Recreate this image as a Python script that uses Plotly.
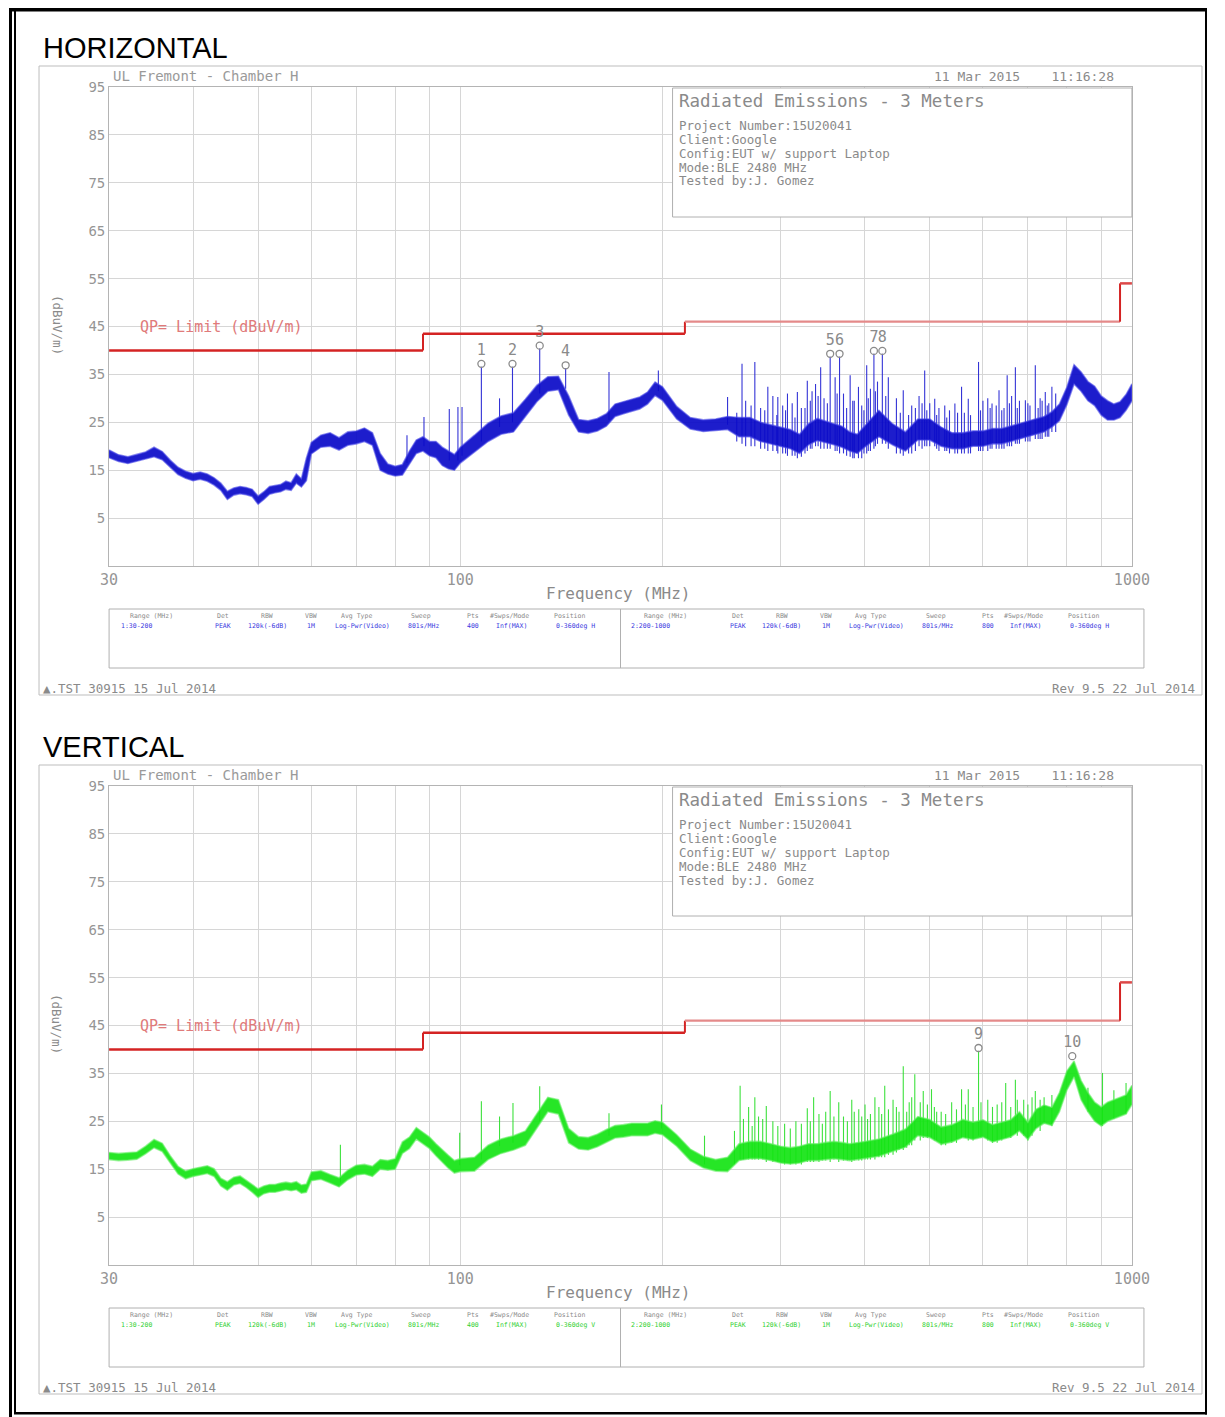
import plotly.graph_objects as go

W, H = 1225, 1417

# ---------------- sweep data (MHz / dBuV/m) ----------------
FREQ = [30, 31, 32, 33, 34, 35, 36, 37, 38, 39, 40, 41, 42, 43, 44, 45, 46, 47, 48, 49,
        50, 51, 52, 53, 54, 55, 56, 57, 58, 59, 60,
        62, 64, 66, 68, 70, 72, 74, 76, 78, 80, 82, 84, 86, 88, 90, 92, 94, 96, 98, 100,
        105, 110, 115, 120, 125, 130, 135, 140, 145, 150, 155, 160, 165, 170, 175, 180,
        185, 190, 195, 200,
        210, 220, 230, 240, 250, 260, 270, 280, 290, 300, 310, 320, 330, 340, 350, 360,
        370, 380, 390, 400,
        420, 440, 460, 480, 500, 520, 540, 560, 580, 600, 620, 640, 660, 680, 700, 720,
        740, 760, 780, 800, 820, 840, 860, 880, 900, 920, 940, 960, 980, 1000]

# Horizontal polarisation: lower / upper edge of the trace band
H_LO = [17.6, 16.8, 16.4, 16.9, 17.3, 17.8, 17.2, 15.6, 14.1, 13.3, 12.8, 13.1, 12.7, 11.9, 10.8, 8.9,
        9.8, 10.1, 9.9, 9.5, 7.9, 8.9, 10.0, 10.3, 10.5, 11.0, 10.8, 12.3, 11.5, 12.8, 18.4,
        19.8, 20.0, 19.2, 20.2, 20.5, 21.0, 20.2, 15.0, 14.2, 13.8, 14.0, 16.2, 18.5, 19.0, 18.0,
        17.6, 16.0, 15.3, 15.0, 16.5,
        18.8, 21.0, 22.5, 23.0, 26.2, 29.3, 31.5, 31.8, 26.5, 23.0, 22.7, 23.2, 24.2, 26.2, 26.8,
        27.3, 27.8, 28.8, 30.6, 29.6,
        25.7, 23.6, 23.1, 23.3, 23.5, 22.0, 22.0, 21.0, 20.5, 20.0, 19.5, 18.5, 20.3, 21.2, 20.8,
        20.3, 19.8, 19.0, 18.5, 19.8,
        22.0, 20.3, 19.0, 21.3, 21.3, 20.0, 19.5, 19.5, 20.0, 20.0, 20.5, 20.5, 21.0, 21.5, 22.0,
        22.5, 23.0, 24.0, 25.3, 28.7, 33.0, 31.5, 29.5, 28.5, 26.5, 25.5, 25.5, 26.0, 27.5, 29.5]
H_HI = [19.2, 18.2, 17.8, 18.3, 18.8, 19.8, 18.9, 17.1, 15.6, 14.8, 14.3, 14.6, 14.2, 13.4, 12.3, 10.6,
        11.3, 11.6, 11.4, 11.0, 9.6, 10.5, 11.6, 11.8, 12.0, 12.7, 12.4, 14.2, 13.2, 17.5, 20.8,
        22.3, 22.8, 21.8, 23.0, 23.2, 23.8, 22.8, 18.5, 16.3, 15.8, 16.2, 19.0, 21.3, 22.0, 21.0,
        21.0, 19.8, 19.0, 18.3, 19.8,
        22.3, 24.8, 26.3, 27.0, 29.8, 32.7, 34.5, 34.6, 30.5, 25.6, 25.3, 25.8, 26.8, 28.8, 29.3,
        29.8, 30.3, 31.3, 33.4, 32.4,
        28.3, 26.0, 25.5, 25.7, 26.2, 26.0, 26.0, 25.0, 24.5, 24.0, 23.5, 22.5, 24.7, 25.8, 25.2,
        24.7, 24.2, 23.0, 22.5, 24.2,
        27.5, 24.7, 23.0, 25.7, 25.7, 24.0, 22.8, 22.8, 23.2, 23.2, 23.7, 23.7, 24.2, 24.7, 25.2,
        25.7, 26.2, 27.2, 28.8, 32.3, 37.0, 35.5, 33.5, 32.5, 30.5, 29.5, 28.8, 29.3, 30.8, 33.0]

# Vertical polarisation: lower / upper edge of the trace band
V_LO = [17.0, 16.8, 16.9, 17.1, 18.2, 19.5, 18.7, 16.2, 14.0, 13.0, 13.5, 13.8, 14.1, 13.5, 11.5, 10.6,
        11.7, 12.0, 11.2, 10.2, 9.1, 9.9, 10.2, 10.2, 10.5, 10.7, 10.5, 10.7, 10.0, 10.2, 12.6,
        12.9, 12.1, 11.3, 12.8, 13.8, 14.0, 13.5, 15.0, 14.8, 15.0, 18.3, 19.3, 21.3, 20.3, 19.3,
        17.8, 16.4, 15.2, 14.2, 14.5,
        14.6, 17.0, 18.3, 19.0, 20.0, 23.5, 27.0, 26.5, 20.5, 19.2, 19.0, 19.7, 20.7, 21.5, 21.7,
        22.0, 22.0, 22.0, 22.5, 22.2,
        19.8, 16.8, 15.3, 14.6, 14.5, 16.8, 17.2, 17.2, 16.8, 16.3, 16.1, 16.3, 16.8, 16.8, 17.0,
        17.2, 17.0, 16.8, 17.0, 17.2,
        17.7, 18.7, 19.6, 22.0, 21.6, 20.2, 20.7, 21.6, 21.2, 21.7, 20.7, 21.2, 21.7, 23.0, 21.2,
        23.5, 24.6, 24.1, 27.0, 31.5, 34.3, 29.5, 27.0, 25.0, 24.0, 25.0, 25.5, 26.0, 26.5, 28.5]
V_HI = [18.5, 18.3, 18.4, 18.6, 19.8, 21.2, 20.4, 17.8, 15.6, 14.6, 15.1, 15.4, 15.7, 15.1, 13.1, 12.4,
        13.3, 13.6, 12.8, 11.8, 10.9, 11.5, 11.8, 11.8, 12.1, 12.3, 12.1, 12.4, 11.7, 11.9, 14.4,
        14.7, 13.9, 13.2, 14.8, 15.8, 16.0, 15.6, 17.0, 16.8, 17.2, 20.7, 21.7, 23.7, 22.7, 21.7,
        20.3, 19.0, 17.9, 16.8, 17.2,
        17.5, 20.0, 21.3, 22.0, 23.0, 26.5, 30.0, 29.5, 23.5, 21.8, 21.6, 22.3, 23.3, 24.1, 24.3,
        24.6, 24.6, 24.6, 25.1, 24.8,
        22.2, 19.2, 17.7, 17.0, 17.5, 20.3, 20.8, 20.8, 20.3, 19.8, 19.5, 19.8, 20.3, 20.3, 20.6,
        20.8, 20.6, 20.3, 20.6, 20.8,
        21.3, 22.3, 23.4, 26.0, 25.4, 23.8, 24.3, 25.4, 24.8, 25.3, 24.3, 24.8, 25.3, 27.0, 24.8,
        27.5, 28.4, 27.9, 31.0, 35.5, 37.6, 33.5, 31.0, 29.0, 28.0, 29.0, 29.5, 30.0, 30.5, 32.5]

# Narrow-band emissions: frequency, peak level and the dip level of each column
H_SPK_F = [83.3, 88.3, 96.3, 99.2, 100.6, 107.5, 114.4, 119.6, 131.3, 143.5, 166.5, 197.2, 250, 262.7,
           274.5, 287, 297, 307, 317.6, 328.6, 338, 344, 355.4, 361.5, 367, 380.6, 391.6, 402.8,
           412.9, 425, 433.8, 456.6, 491.4, 508.6, 526.4, 545, 557.6, 570.6, 591, 619, 634, 652,
           670.6, 694, 718, 743, 760,
           266, 280, 292, 302, 312, 322, 334, 348, 372, 386, 396, 408, 418, 446, 470, 482, 500,
           516, 535, 563, 600, 610, 628, 645, 662, 680, 705, 730, 752,
           258, 271, 284, 296, 305, 315, 326, 332, 341, 352, 364, 376, 384, 399, 405, 415, 430,
           452, 465, 476, 487, 495, 512, 530, 550, 575, 595, 615, 640, 657, 675, 700, 725, 735,
           748, 770]
H_SPK_TOP = [22.3, 26.1, 27.8, 28.2, 28.2, 36.6, 30.0, 36.6, 40.4, 36.3, 35.5, 35.8, 30.3, 37.2,
             37.6, 32.4, 30.3, 31.0, 31.3, 33.7, 33.0, 36.5, 38.7, 34.4, 38.7, 34.8, 32.4, 36.9,
             39.3, 39.3, 34.4, 31.7, 35.8, 29.9, 28.5, 28.9, 32.4, 29.9, 37.6, 28.9, 31.7, 34.8,
             36.5, 29.6, 36.9, 31.3, 32.4,
             29.5, 28.0, 30.5, 28.5, 29.0, 28.0, 31.5, 30.0, 31.0, 29.5, 28.5, 32.0, 33.5, 30.0,
             28.5, 30.5, 29.0, 28.0, 27.5, 27.0, 29.5, 30.0, 28.5, 28.0, 30.5, 29.5, 28.5, 30.0, 29.0,
             27.0, 28.5, 27.5, 26.5, 27.5, 26.0, 28.0, 29.5, 30.5, 29.0, 31.0, 28.0, 29.5, 27.5,
             30.0, 31.5, 30.5, 27.0, 26.5, 28.0, 29.0, 27.5, 26.5, 26.0, 27.0, 26.5, 27.5, 28.0,
             27.5, 29.0, 28.0, 29.0, 28.0, 29.5, 28.5, 31.0]
H_SPK_LOW = [16.5, 20.0, 17.0, 17.0, 18.0, 21.0, 24.0, 25.0, 31.0, 32.0, 25.5, 31.5, 24.5, 20.5,
             20.0, 19.0, 18.5, 18.0, 17.5, 19.0, 20.0, 19.5, 19.5, 19.0, 18.5, 17.8, 17.5, 18.5,
             19.5, 20.5, 19.5, 18.0, 20.0, 20.0, 19.0, 18.5, 18.5, 18.5, 19.0, 19.5, 19.5, 20.0,
             20.5, 21.0, 21.5, 22.0, 23.0,
             20.0, 19.5, 19.0, 18.5, 18.0, 17.8, 19.5, 19.5, 18.5, 17.5, 17.5, 19.0, 20.5, 18.5,
             18.5, 20.0, 20.0, 19.0, 18.5, 18.5, 19.0, 19.0, 19.5, 19.5, 20.0, 20.5, 21.0, 21.5, 22.0,
             21.0, 20.0, 19.5, 19.0, 18.5, 18.0, 18.5, 19.5, 20.0, 19.5, 19.0, 18.0, 17.5, 18.5,
             19.0, 20.0, 20.5, 18.5, 18.5, 19.0, 19.5, 20.0, 19.5, 19.0, 18.5, 18.5, 19.0, 19.5,
             19.5, 20.0, 20.5, 21.0, 21.5, 21.5, 22.0, 23.0]

V_SPK_F = [66.3, 99.8, 107.5, 114.4, 119.8, 131.3, 166.5, 199.3, 231, 261, 268.7, 274.5, 285.5,
           328.6, 335.8, 355.4, 366, 382.7, 400.5, 414.3, 428.5, 440.9, 456.6, 475, 489, 503, 539,
           557.6, 570.6, 591, 648.7, 670.6, 718, 904,
           264, 278, 292, 304, 316, 342, 350, 372, 392, 408, 420, 450, 466, 496, 512, 528, 580,
           610, 630, 660, 690, 740, 760, 860, 940, 980,
           256, 272, 282, 297, 310, 322, 332, 346, 360, 377, 386, 396, 404, 424, 434, 446, 462,
           470, 484, 508, 520, 548, 565, 596, 620, 640, 675, 700, 710, 730]
V_SPK_TOP = [20.1, 22.6, 29.2, 26.0, 28.8, 32.3, 26.7, 28.5, 22.0, 32.4, 28.0, 30.0, 28.2, 27.7,
             30.0, 31.3, 29.0, 29.5, 28.5, 30.0, 32.4, 29.5, 36.5, 34.8, 31.3, 31.7, 29.0, 31.7,
             31.7, 39.7, 33.0, 33.7, 31.3, 35.1,
             25.5, 26.0, 25.0, 24.5, 25.0, 26.5, 27.0, 26.0, 27.5, 26.5, 28.0, 27.0, 29.0, 28.5,
             27.0, 26.5, 28.0, 29.5, 28.5, 28.0, 29.5, 30.0, 30.5, 32.0, 31.5, 33.0,
             23.0, 24.0, 25.5, 24.0, 23.5, 24.5, 25.0, 24.5, 26.0, 25.0, 27.0, 26.0, 25.5, 26.5,
             27.5, 28.0, 27.0, 30.0, 29.0, 28.0, 27.0, 27.5, 28.5, 29.0, 28.0, 29.0, 29.5, 28.5,
             30.0, 29.5]
V_SPK_LOW = [12.2, 15.8, 17.0, 19.8, 20.5, 25.0, 22.0, 23.5, 16.0, 17.0, 17.0, 17.0, 16.5, 16.5,
             16.5, 16.5, 16.5, 16.5, 17.0, 17.0, 17.5, 18.0, 19.0, 21.0, 21.5, 21.5, 20.5, 21.5,
             21.0, 22.0, 21.5, 22.5, 23.5, 24.0,
             17.0, 17.0, 16.5, 16.0, 16.0, 16.5, 16.8, 16.8, 16.8, 17.0, 17.5, 19.0, 20.0, 21.5,
             21.0, 20.0, 21.0, 21.0, 20.5, 21.5, 22.0, 24.5, 24.0, 27.0, 25.5, 26.5,
             16.0, 17.0, 17.0, 16.5, 16.0, 16.0, 16.5, 16.8, 17.0, 16.8, 16.8, 16.8, 17.0, 17.5,
             18.0, 18.5, 19.5, 20.0, 21.0, 21.0, 20.0, 20.5, 21.5, 21.5, 20.5, 21.0, 22.0, 21.0,
             22.0, 23.0]

# Marked peaks
H_MARK_F = [107.5, 119.6, 131.3, 143.5, 355.4, 367, 412.9, 425]
H_MARK_DB = [37.2, 37.2, 41.0, 36.9, 39.3, 39.3, 39.9, 39.9]
H_MARK_LBL = ["1", "2", "3", "4", "5", "6", "7", "8"]
V_MARK_F = [591, 815]
V_MARK_DB = [40.3, 38.6]
V_MARK_LBL = ["9", "10"]

# Quasi-peak limit (step edges in MHz, level in dBuV/m per step)
LIMIT_F = [30, 88, 216, 960, 1000]
LIMIT_DB = [40, 43.5, 46, 54]

X_TICKS = [30, 40, 50, 60, 70, 80, 90, 100, 200, 300, 400, 500, 600, 700, 800, 900, 1000]
X_TICK_TEXT = ["30", "", "", "", "", "", "", "100", "", "", "", "", "", "", "", "", "1000"]
Y_TICKS = [5, 15, 25, 35, 45, 55, 65, 75, 85, 95]

INFO_TITLE = "Radiated Emissions - 3 Meters"
INFO_LINES = ["Project Number:15U20041", "Client:Google", "Config:EUT w/ support Laptop",
              "Mode:BLE 2480 MHz", "Tested by:J. Gomez"]
TABLE_HEAD = ["Range (MHz)", "Det", "RBW", "VBW", "Avg Type", "Sweep", "Pts", "#Swps/Mode", "Position"]
TABLE_ROW1 = ["1:30-200", "PEAK", "120k(-6dB)", "1M", "Log-Pwr(Video)", "801s/MHz", "400", "Inf(MAX)", "0-360deg"]
TABLE_ROW2 = ["2:200-1000", "PEAK", "120k(-6dB)", "1M", "Log-Pwr(Video)", "801s/MHz", "800", "Inf(MAX)", "0-360deg"]

for a, b in [(H_LO, FREQ), (H_HI, FREQ), (V_LO, FREQ), (V_HI, FREQ), (H_SPK_TOP, H_SPK_F),
             (H_SPK_LOW, H_SPK_F), (V_SPK_TOP, V_SPK_F), (V_SPK_LOW, V_SPK_F)]:
    assert len(a) == len(b)

# ---------------- layout helpers ----------------
MONO = "DejaVu Sans Mono"
GREY = "#959595"

# The page keeps its default body margin and a scrollbar, so the figure box
# lands at (8, 8) with a size of 1197 x 1409 window pixels.  px/py turn window
# pixel positions into paper fractions of that box.
OX, OY, BW, BH = 8.0, 8.0, 1197.0, 1409.0


def px(x):
    return (x - OX) / BW


def py(y):
    return 1 - (y - OY) / BH


fig = go.Figure()
shapes = []
annotations = []


def text(x, y, s, size, color=GREY, xanchor="left", family=MONO, angle=0):
    annotations.append(dict(x=px(x), y=py(y), xref="paper", yref="paper", text=s, showarrow=False,
                            xanchor=xanchor, yanchor="middle", textangle=angle,
                            font=dict(family=family, size=size, color=color)))


def rect(x0, y0, x1, y1, color, width, fill=None, layer="below"):
    shapes.append(dict(type="rect", xref="paper", yref="paper", x0=px(x0), x1=px(x1),
                       y0=py(y0), y1=py(y1), line=dict(color=color, width=width),
                       fillcolor=fill if fill else "rgba(0,0,0,0)", layer=layer))


def block(x0, y0, x1, y1, color):
    shapes.append(dict(type="rect", xref="paper", yref="paper", x0=px(x0), x1=px(x1),
                       y0=py(y0), y1=py(y1), line=dict(width=0), fillcolor=color, layer="above"))


def vline(x, y0, y1, color, width):
    shapes.append(dict(type="line", xref="paper", yref="paper", x0=px(x), x1=px(x),
                       y0=py(y0), y1=py(y1), line=dict(color=color, width=width), layer="above"))


# page border: heavy rule on top and left, thin rule all round
block(OX, OY, OX + BW, 11.5, "black")
block(OX, OY, 11, OY + BH, "black")
block(13, 11, 15, 1414, "black")
block(13, 1412, 1205, 1414.5, "black")
block(1203, 11, 1205, 1414.5, "black")

PANELS = [
    dict(title="HORIZONTAL", dy=0, ax="", lo=H_LO, hi=H_HI, sf=H_SPK_F, st=H_SPK_TOP, sb=H_SPK_LOW,
         mf=H_MARK_F, md=H_MARK_DB, ml=H_MARK_LBL, pol="H",
         fill="rgba(10,10,200,0.92)", edge="rgba(70,70,230,0.6)", spike="rgba(30,30,210,0.9)",
         tcol="#3a3ae0"),
    dict(title="VERTICAL", dy=699, ax="2", lo=V_LO, hi=V_HI, sf=V_SPK_F, st=V_SPK_TOP, sb=V_SPK_LOW,
         mf=V_MARK_F, md=V_MARK_DB, ml=V_MARK_LBL, pol="V",
         fill="rgba(20,228,20,0.92)", edge="rgba(100,238,100,0.6)", spike="rgba(40,222,40,0.9)",
         tcol="#30d030"),
]

LIMIT_STYLE = [("#d42323", 2.5), ("#d42323", 2.5), ("#e48a8a", 2.2), ("#dc4848", 2.5)]

layout_axes = {}
for p in PANELS:
    dy = p["dy"]
    xa, ya = "x" + p["ax"], "y" + p["ax"]
    xkey = "xaxis" + p["ax"]
    ykey = "yaxis" + p["ax"]
    layout_axes[xkey] = dict(
        type="log", range=[1.4771213, 3.0], domain=[px(108), px(1130)], anchor=ya,
        tickvals=X_TICKS, ticktext=X_TICK_TEXT, showgrid=True, gridcolor="#d6d6d6", gridwidth=1,
        showline=True, linecolor="#b4b4b4", linewidth=1, mirror=True, zeroline=False, ticks="",
        tickfont=dict(family=MONO, size=15, color=GREY), fixedrange=True)
    layout_axes[ykey] = dict(
        range=[-5, 95], domain=[py(566 + dy), py(87 + dy)], anchor=xa,
        tickvals=Y_TICKS, ticktext=[str(v) for v in Y_TICKS], showgrid=True, gridcolor="#d6d6d6",
        gridwidth=1, showline=True, linecolor="#b4b4b4", linewidth=1, mirror=True, zeroline=False,
        ticks="", tickfont=dict(family=MONO, size=14, color=GREY), fixedrange=True)

    # narrow-band columns (drawn first, the band sits on top of their feet)
    sx, sy = [], []
    for f, t, b in zip(p["sf"], p["st"], p["sb"]):
        sx += [f, f, None]
        sy += [b, t, None]
    fig.add_trace(go.Scatter(x=sx, y=sy, mode="lines", line=dict(color=p["spike"], width=1.1),
                             xaxis=xa, yaxis=ya, hoverinfo="skip"))

    # trace band
    fig.add_trace(go.Scatter(x=FREQ + FREQ[::-1], y=p["lo"] + p["hi"][::-1], mode="lines",
                             fill="toself", fillcolor=p["fill"],
                             line=dict(color=p["edge"], width=1.6),
                             xaxis=xa, yaxis=ya, hoverinfo="skip"))

    # limit line, one segment per step
    for i, lvl in enumerate(LIMIT_DB):
        col, wid = LIMIT_STYLE[i]
        fig.add_trace(go.Scatter(x=[LIMIT_F[i], LIMIT_F[i + 1]], y=[lvl, lvl], mode="lines",
                                 line=dict(color=col, width=wid), xaxis=xa, yaxis=ya,
                                 hoverinfo="skip"))
        if i + 1 < len(LIMIT_DB):
            fig.add_trace(go.Scatter(x=[LIMIT_F[i + 1], LIMIT_F[i + 1]], y=[lvl, LIMIT_DB[i + 1]],
                                     mode="lines", line=dict(color="#d42323", width=2),
                                     xaxis=xa, yaxis=ya, hoverinfo="skip"))

    # peak markers
    fig.add_trace(go.Scatter(x=p["mf"], y=p["md"], mode="markers+text", text=p["ml"],
                             textposition="top center",
                             textfont=dict(family=MONO, size=15, color="#8a8a8a"),
                             marker=dict(symbol="circle-open", size=7, color="#8a8a8a",
                                         line=dict(width=1.3, color="#8a8a8a")),
                             xaxis=xa, yaxis=ya, hoverinfo="skip"))

    # panel furniture
    text(40, 48 + dy, p["title"], 29, color="black", family="Liberation Sans")
    rect(38, 66 + dy, 1200, 695 + dy, "#bdbdbd", 1)
    text(110, 76 + dy, "UL Fremont - Chamber H", 14, color="#9a9a9a")
    text(930, 76 + dy, "11 Mar 2015    11:16:28", 13, color="#8a8a8a")
    rect(671, 88 + dy, 1130, 217 + dy, "#b0b0b0", 1, fill="white", layer="above")
    text(675, 101 + dy, INFO_TITLE, 17.5, color="#8a8a8a")
    for k, line in enumerate(INFO_LINES):
        text(675, 125 + 14 * k + dy, line, 12.5, color="#8a8a8a")
    text(56, 325 + dy, "(dBuV/m)", 12.5, color="#8a8a8a", xanchor="center", angle=90)
    text(137, 327 + dy, "QP= Limit (dBuV/m)", 15, color="#e07a7a")
    text(617, 593 + dy, "Frequency (MHz)", 16, color="#8a8a8a", xanchor="center")

    # sweep settings table
    rect(108, 609 + dy, 1142, 668 + dy, "#b0b0b0", 1)
    vline(619, 609 + dy, 668 + dy, "#b0b0b0", 1)
    head_x = [150, 222, 266, 310, 355, 420, 472, 508, 568]
    row_x = [135, 222, 266, 310, 361, 422, 472, 510, 574]
    for off, row in [(0, TABLE_ROW1), (514, TABLE_ROW2)]:
        for hx, s in zip(head_x, TABLE_HEAD):
            text(hx + off, 616 + dy, s, 6.5, color="#8a8a8a", xanchor="center")
        for rx, s in zip(row_x, row):
            if s.startswith("0-360"):
                s = s + " " + p["pol"]
            text(rx + off, 626 + dy, s, 6.5, color=p["tcol"], xanchor="center")

    text(40, 688 + dy, "\u25b2.TST 30915 15 Jul 2014", 12.5, color="#8a8a8a")
    text(1195, 688 + dy, "Rev 9.5 22 Jul 2014", 12.5, color="#8a8a8a", xanchor="right")

fig.update_layout(
    width=W, height=H, margin=dict(l=0, r=0, t=0, b=0, pad=0),
    paper_bgcolor="white", plot_bgcolor="white", showlegend=False,
    shapes=shapes, annotations=annotations, **layout_axes)

fig.write_html("out.html")
